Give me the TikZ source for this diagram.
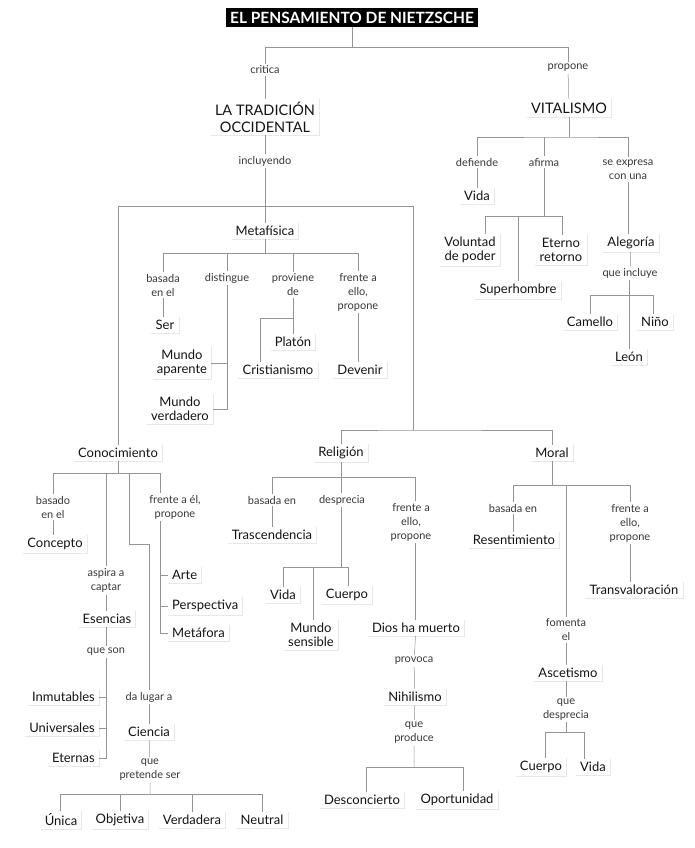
\documentclass[tikz,border=0pt]{standalone}
\usepackage{fontspec}
\setmainfont{Lato}
\begin{document}
\begin{tikzpicture}[x=1pt,y=-1pt,
  ln/.style={draw=black!42, line width=0.5pt},
  box/.style={font=\fontsize{13}{14}\selectfont, text=black!92, align=center, inner xsep=4pt, inner ysep=3pt,
    append after command={\pgfextra{\draw[black!9, line width=1pt] ([xshift=0.5pt]\tikzlastnode.north east) -- ([xshift=0.5pt,yshift=-0.5pt]\tikzlastnode.south east) -- ([yshift=-0.5pt]\tikzlastnode.south west);}}},
  bigbox/.style={box, font=\fontsize{14.5}{17}\selectfont},
  lbl/.style={font=\fontsize{11}{14}\selectfont, text=black!78, align=center, inner sep=2pt},
  titlebox/.style={fill=black, text=white, font=\bfseries\fontsize{15.5}{15.5}\selectfont, minimum width=252pt, minimum height=19pt, inner sep=0pt}
]
\useasboundingbox[fill=white] (0,0) rectangle (694,848);

% ---------- top ----------
\node[titlebox] (title) at (352,17.5) {EL PENSAMIENTO DE NIETZSCHE};
\coordinate (j0) at (352,47);
\node[lbl] (critica) at (265,70) {critica};
\node[bigbox] (trad) at (265,117) {LA TRADICIÓN\\OCCIDENTAL};
\node[lbl] (propone) at (568,68) {propone};
\node[bigbox] (vital) at (569,108) {VITALISMO};
\draw[ln] (title) -- (j0);
\draw[ln] (trad) -- (critica) -- (critica |- j0) -| (propone);
\draw[ln] (propone) -- (vital);

% ---------- vitalismo ----------
\coordinate (v0) at (569,137);
\node[lbl] (defiende) at (477,162) {defiende};
\node[box] (vidaV) at (477,196) {Vida};
\node[lbl] (afirma) at (544,162) {afirma};
\node[lbl] (seexp) at (628,169.5) {se expresa\\con una};
\draw[ln] (vital) -- (v0);
\draw[ln] (defiende) |- (v0) -| (seexp);
\draw[ln] (afirma) -- (afirma |- v0);
\draw[ln] (defiende) -- (vidaV);

\coordinate (a0) at (544,216);
\coordinate (a1) at (485,216);
\coordinate (a2) at (518,216);
\coordinate (a3) at (562,216);
\node[box] (vol) at (470,250) {Voluntad\\de poder};
\node[box] (ete) at (561,250) {Eterno\\retorno};
\node[box] (sup) at (518,290) {Superhombre};
\draw[ln] (afirma) -- (a0);
\draw[ln] (a1 |- vol.north) -- (a1) -- (a3) -- (a3 |- ete.north);
\draw[ln] (a2) -- (sup);

\node[box] (aleg) at (631,243) {Alegoría};
\node[lbl] (incl) at (630,273) {que incluye};
\coordinate (q1) at (590,295);
\coordinate (q2) at (653,295);
\node[box] (cam) at (590,322) {Camello};
\node[box] (nino) at (655,322) {Niño};
\node[box] (leon) at (629,357) {León};
\draw[ln] (seexp) -- (seexp |- aleg.north);
\draw[ln] (aleg) -- (incl);
\draw[ln] (incl.south -| leon) -- (leon);
\draw[ln] (cam) |- (q2) -- (q2 |- nino.north);

% ---------- tradicion ----------
\node[lbl] (incluyendo) at (265,161) {incluyendo};
\coordinate (tl) at (118,206);
\coordinate (tr) at (413,206);
\node[box] (meta) at (265,231) {Metafísica};
\draw[ln] (trad) -- (incluyendo) -- (meta);
\draw[ln] (tl) -- (tr);
\coordinate (rm) at (413,430);
\draw[ln] (tr) -- (rm);

% ---------- metafisica ----------
\coordinate (b1) at (163,253);
\coordinate (b4) at (358,253);
\node[lbl] (basEl) at (163,285) {basada\\en el};
\node[lbl] (dist) at (227,278) {distingue};
\node[lbl] (prov) at (293,285) {proviene\\de};
\node[lbl] (frMet) at (358,292) {frente a\\ello,\\propone};
\draw[ln] (meta) -- (meta |- b1);
\draw[ln] (basEl) |- (b4) -- (frMet);
\draw[ln] (dist) -- (dist |- b1);
\draw[ln] (prov) -- (prov |- b1);

\node[box] (ser) at (165,325) {Ser};
\draw[ln] (basEl) -- (basEl |- ser.north);
\node[box] (ma) at (182,363) {Mundo\\aparente};
\node[box] (mv) at (180,409) {Mundo\\verdadero};
\draw[ln] (dist) -- (dist.south |- mv.east) -- (mv.east);
\draw[ln] (ma.east) -- (dist.south |- ma.east);

\node[box] (plat) at (293,342) {Platón};
\node[box] (crist) at (278,370) {Cristianismo};
\coordinate (p1) at (260,318);
\draw[ln] (prov) -- (plat);
\draw[ln] (prov.south |- p1) -- (p1) -- (p1 |- crist.north);

\node[box] (dev) at (360,370) {Devenir};
\draw[ln] (frMet) -- (frMet |- dev.north);

% ---------- conocimiento ----------
\node[box] (con) at (118,453) {Conocimiento};
\draw[ln] (tl) -- (con);
\coordinate (k1) at (53,473);
\coordinate (k2) at (106,473);
\coordinate (k3) at (129,473);
\coordinate (k4) at (160,473);
\node[lbl] (basado) at (53,507) {basado\\en el};
\node[box] (concepto) at (55,544) {Concepto};
\node[lbl] (frc) at (175,507) {frente a él,\\propone};
\draw[ln] (con) -- (con |- k1);
\draw[ln] (basado) |- (k4) -- (k4 |- frc.north);
\draw[ln] (basado) -- (basado |- concepto.north);

\node[lbl] (aspira) at (106,580.5) {aspira a\\captar};
\node[box] (esen) at (107,619) {Esencias};
\draw[ln] (k2) -- (aspira) -- (aspira |- esen.north);
\node[lbl] (queson) at (106,652) {que son};
\node[box, anchor=east] (inm) at (99,697) {Inmutables};
\node[box, anchor=east] (univ) at (99,728) {Universales};
\node[box, anchor=east] (eter) at (99,758) {Eternas};
\draw[ln] (esen.south -| queson) -- (queson);
\draw[ln] (queson) -- (queson.south |- eter.east) -- (eter.east);
\draw[ln] (inm.east) -- (queson.south |- inm.east);
\draw[ln] (univ.east) -- (queson.south |- univ.east);

\coordinate (k3b) at (129,544);
\coordinate (k3c) at (149,544);
\node[lbl] (dal) at (149,697) {da lugar a};
\node[box] (cien) at (149,732) {Ciencia};
\draw[ln] (k3) -- (k3b) -- (k3c) -- (dal) -- (cien);
\node[lbl] (pret) at (150,770) {que\\pretende ser};
\coordinate (u1) at (60,794);
\coordinate (u4) at (262,794);
\node[box] (unica) at (61,820) {Única};
\node[box] (obj) at (120,820) {Objetiva};
\node[box] (verd) at (192,820) {Verdadera};
\node[box] (neut) at (262,820) {Neutral};
\draw[ln] (cien) -- (pret) -- (pret |- u1);
\draw[ln] (u1 |- unica.north) -- (u1) -- (u4) -- (u4 |- neut.north);
\draw[ln] (obj) -- (obj |- u1);
\draw[ln] (verd) -- (verd |- u1);

\node[box, anchor=west] (arte) at (168,575) {Arte};
\node[box, anchor=west] (persp) at (168,606) {Perspectiva};
\node[box, anchor=west] (metaf) at (168,633) {Metáfora};
\draw[ln] (k4 |- frc.south) -- (k4 |- metaf.west) -- (metaf.west);
\draw[ln] (k4 |- arte.west) -- (arte.west);
\draw[ln] (k4 |- persp.west) -- (persp.west);

% ---------- religion ----------
\node[box] (rel) at (341,453) {Religión};
\node[box] (mor) at (552,453) {Moral};
\draw[ln] (rel) |- (rm) -| (mor);
\coordinate (r1) at (272,477);
\coordinate (r3) at (415,477);
\node[lbl] (basR) at (272,500) {basada en};
\node[box] (trasc) at (272,535) {Trascendencia};
\node[lbl] (despr) at (342,500) {desprecia};
\node[lbl] (frR) at (411,522) {frente a\\ello,\\propone};
\draw[ln] (rel) -- (rel |- r1);
\draw[ln] (basR) |- (r3) -- (r3 |- frR.north);
\draw[ln] (despr.north -| rel) -- (rel |- r1);
\draw[ln] (basR) -- (trasc);

\coordinate (d1) at (283,567);
\coordinate (d2) at (313,567);
\coordinate (d3) at (348,567);
\node[box] (vidaR) at (283,595) {Vida};
\node[box] (cuerpoR) at (347,595) {Cuerpo};
\node[box] (ms) at (311,635) {Mundo\\sensible};
\draw[ln] (despr.south -| rel) -- (rel |- d1);
\draw[ln] (vidaR) |- (d3) -- (d3 |- cuerpoR.north);
\draw[ln] (d2) -- (d2 |- ms.north);

\node[box] (dios) at (416,628) {Dios ha muerto};
\node[lbl] (provoca) at (414,661) {provoca};
\node[box] (nihil) at (415,697) {Nihilismo};
\node[lbl] (qprod) at (414,733) {que\\produce};
\coordinate (e1) at (366,767);
\coordinate (e2) at (463,767);
\node[box] (desc) at (362,800) {Desconcierto};
\node[box] (opor) at (457,800) {Oportunidad};
\draw[ln] (r3 |- frR.south) -- (r3 |- dios.north);
\draw[ln] (dios) -- (provoca) -- (nihil) -- (qprod) -- (qprod |- e1);
\draw[ln] (e1 |- desc.north) -- (e1) -- (e2) -- (e2 |- opor.north);

% ---------- moral ----------
\coordinate (m1) at (513,485);
\coordinate (m2) at (566,485);
\coordinate (m3) at (630,485);
\node[lbl] (basM) at (513,508) {basada en};
\node[box] (resent) at (514,540) {Resentimiento};
\node[lbl] (frM) at (630,523) {frente a\\ello,\\propone};
\node[box] (transv) at (634,590) {Transvaloración};
\draw[ln] (mor) -- (mor |- m1);
\draw[ln] (basM) |- (m3) -- (frM);
\draw[ln] (basM) -- (basM |- resent.north);
\draw[ln] (frM) -- (frM |- transv.north);

\node[lbl] (fom) at (566,630) {fomenta\\el};
\node[box] (asc) at (568,673) {Ascetismo};
\node[lbl] (qdes) at (566,709.5) {que\\desprecia};
\coordinate (w1) at (545,732);
\coordinate (w2) at (584,732);
\node[box] (cuM) at (541,767) {Cuerpo};
\node[box] (viM) at (593,767) {Vida};
\draw[ln] (m2) -- (fom) -- (fom |- asc.north);
\draw[ln] (asc.south -| fom) -- (qdes) -- (qdes |- w1);
\draw[ln] (w1 |- cuM.north) -- (w1) -- (w2) -- (w2 |- viM.north);
\end{tikzpicture}
\end{document}
